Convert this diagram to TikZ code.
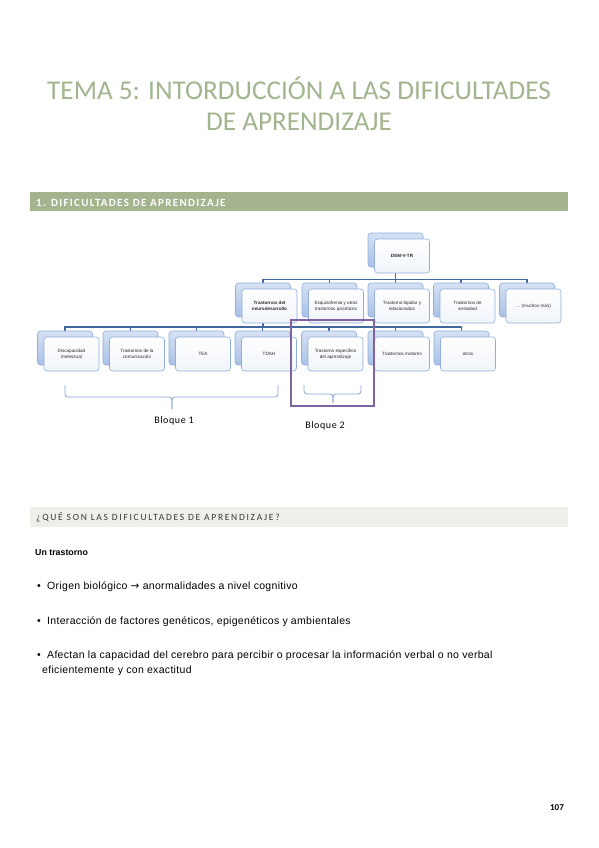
\documentclass[tikz,border=0pt]{standalone}
\usepackage{fontspec}
\setmainfont{Carlito}
\newfontfamily\arial{Liberation Sans}
\newfontfamily\dejavu{DejaVu Sans}
\usetikzlibrary{backgrounds,calc}
\pgfdeclarelayer{paper}
\pgfdeclarelayer{background}
\pgfsetlayers{paper,background,main}
\definecolor{sage}{HTML}{A3B58F}
\definecolor{barg}{HTML}{A4B48F}
\definecolor{lightbar}{HTML}{EDEFE9}
\definecolor{conncol}{HTML}{41689F}
\definecolor{boxedge}{HTML}{8FAEDB}
\definecolor{backtop}{HTML}{D6E2F3}
\definecolor{backbot}{HTML}{A9C0E6}
\definecolor{frontbot}{HTML}{F0F4FA}
\definecolor{boxtext}{HTML}{2A2A2A}
\definecolor{bracecol}{HTML}{86A6D8}
\definecolor{purp}{HTML}{8064A2}
\definecolor{darktext}{HTML}{3A3A3A}
\tikzset{
  backbox/.style={draw=boxedge, rounded corners=3pt, top color=backtop, bottom color=backbot,
    minimum width=55pt, minimum height=34pt, inner sep=0pt, line width=0.6pt},
  frontbox/.style={draw=boxedge, rounded corners=3pt, top color=white, bottom color=frontbot,
    minimum width=55pt, minimum height=34pt, inner sep=0pt, align=center,
    font=\arial\fontsize{4.6}{5.8}\selectfont, text=boxtext, line width=0.6pt},
  connline/.style={draw=conncol, line width=1.6pt},
  bracestyle/.style={draw=bracecol, line width=0.8pt, rounded corners=3pt},
  bullettext/.style={anchor=base west, font=\arial\fontsize{10.5}{12}\selectfont\addfontfeature{LetterSpace=3}, text=black, inner sep=0pt},
}
\begin{document}
\begin{tikzpicture}[x=1pt,y=-1pt]
\useasboundingbox (0,0) rectangle (599,848);
\begin{pgfonlayer}{paper}
\fill[white] (0,0) rectangle (599,848);
\end{pgfonlayer}

% Title
\node[anchor=base, text=sage, inner sep=0pt, font=\fontsize{27.2}{32}\selectfont] (t1) at (299,100) {TEMA 5: INTORDUCCIÓN A LAS DIFICULTADES};
\node[anchor=base, text=sage, inner sep=0pt, font=\fontsize{27.2}{32}\selectfont] (t2) at (299,131) {DE APRENDIZAJE};

% Section bar 1
\fill[barg] (30,192) rectangle (568,211);
\node[anchor=base west, inner sep=0pt, text=white, font=\bfseries\fontsize{11}{13}\selectfont\addfontfeature{LetterSpace=12}] (s1) at (36,206) {1. DIFICULTADES DE APRENDIZAJE};

% Chart
\node[backbox] (b0) at (395.5,250) {};
\node[frontbox] (f0) at ($(b0)+(6.5,6)$) {\textbf{DSM-V-TR}};

\node[backbox] (b11) at (263,300) {};
\node[frontbox] (f11) at ($(b11)+(6.5,6)$) {\textbf{Trastornos del}\\\textbf{neurodesarrollo}};
\node[backbox] (b12) at (329.5,300) {};
\node[frontbox] (f12) at ($(b12)+(6.5,6)$) {Esquizofrenia y otros\\trastornos psicóticos};
\node[backbox] (b13) at (395.5,300) {};
\node[frontbox] (f13) at ($(b13)+(6.5,6)$) {Trastorno bipolar y\\relacionados};
\node[backbox] (b14) at (461,300) {};
\node[frontbox] (f14) at ($(b14)+(6.5,6)$) {Trastornos de\\ansiedad};
\node[backbox] (b15) at (527,300) {};
\node[frontbox] (f15) at ($(b15)+(6.5,6)$) {... (muchos más)};

\node[backbox] (b21) at (65,348) {};
\node[frontbox] (f21) at ($(b21)+(6.5,6)$) {Discapacidad\\intelectual};
\node[backbox] (b22) at (130.5,348) {};
\node[frontbox] (f22) at ($(b22)+(6.5,6)$) {Trastornos de la\\comunicación};
\node[backbox] (b23) at (196.5,348) {};
\node[frontbox] (f23) at ($(b23)+(6.5,6)$) {TEA};
\node[backbox] (b24) at (262.5,348) {};
\node[frontbox] (f24) at ($(b24)+(6.5,6)$) {TDAH};
\node[backbox] (b25) at (329,348) {};
\node[frontbox] (f25) at ($(b25)+(6.5,6)$) {Trastorno específico\\del aprendizaje};
\node[backbox] (b26) at (395.5,348) {};
\node[frontbox] (f26) at ($(b26)+(6.5,6)$) {Trastornos motores};
\node[backbox] (b27) at (461.5,348) {};
\node[frontbox] (f27) at ($(b27)+(6.5,6)$) {otros};

\coordinate (bus1) at (0,279.5);
\coordinate (bus2) at (0,327);

\begin{pgfonlayer}{background}
  \foreach \c in {b11,b12,b13,b14,b15}
    \draw[connline] (b0.center) -- (b0.center |- bus1) -| (\c.north);
  \foreach \c in {b21,b22,b23,b24,b25,b26,b27}
    \draw[connline] (b11.center) -- (b11.center |- bus2) -| (\c.north);
\end{pgfonlayer}

% Braces
\draw[bracestyle] (65,385) -- (65,397) -- (172,397) -- (172,409);
\draw[bracestyle] (278,385) -- (278,397) -- (172,397) -- (172,409);
\draw[bracestyle] (304,385) -- (304,394) -- (333,394) -- (333,403);
\draw[bracestyle] (361,385) -- (361,394) -- (333,394) -- (333,403);

% Purple frame
\draw[purp, line width=2.5pt] (291,320) rectangle (374,406);

\node[anchor=base, inner sep=0pt, text=black, font=\fontsize{10}{12}\selectfont\addfontfeature{LetterSpace=6}] (bq1) at (174,423.5) {Bloque 1};
\node[anchor=base, inner sep=0pt, text=black, font=\fontsize{10}{12}\selectfont\addfontfeature{LetterSpace=6}] (bq2) at (325,428.5) {Bloque 2};

% Section bar 2
\fill[lightbar] (30,507) rectangle (568,527);
\node[anchor=base west, inner sep=0pt, text=darktext, font=\fontsize{9.5}{11}\selectfont\addfontfeature{LetterSpace=18}] (s2) at (36,520.5) {¿QUÉ SON LAS DIFICULTADES DE APRENDIZAJE?};

\node[anchor=base west, inner sep=0pt, font=\arial\bfseries\fontsize{8.8}{11}\selectfont] (un) at (35,555) {Un trastorno};

\node[bullettext] (d1) at (37,589) {\textbullet};
\node[bullettext] (l1) at (47,589) {Origen biológico {\dejavu\fontsize{10.5}{12}\selectfont →} anormalidades a nivel cognitivo};
\node[bullettext] (d2) at (37,624) {\textbullet};
\node[bullettext] (l2) at (47,624) {Interacción de factores genéticos, epigenéticos y ambientales};
\node[bullettext] (d3) at (37,658) {\textbullet};
\node[bullettext] (l3) at (47,658) {Afectan la capacidad del cerebro para percibir o procesar la información verbal o no verbal};
\node[bullettext] (l4) at (42,673) {eficientemente y con exactitud};

\node[anchor=base, inner sep=0pt, font=\bfseries\fontsize{9}{11}\selectfont] (pg) at (557,810) {107};
\end{tikzpicture}
\end{document}
